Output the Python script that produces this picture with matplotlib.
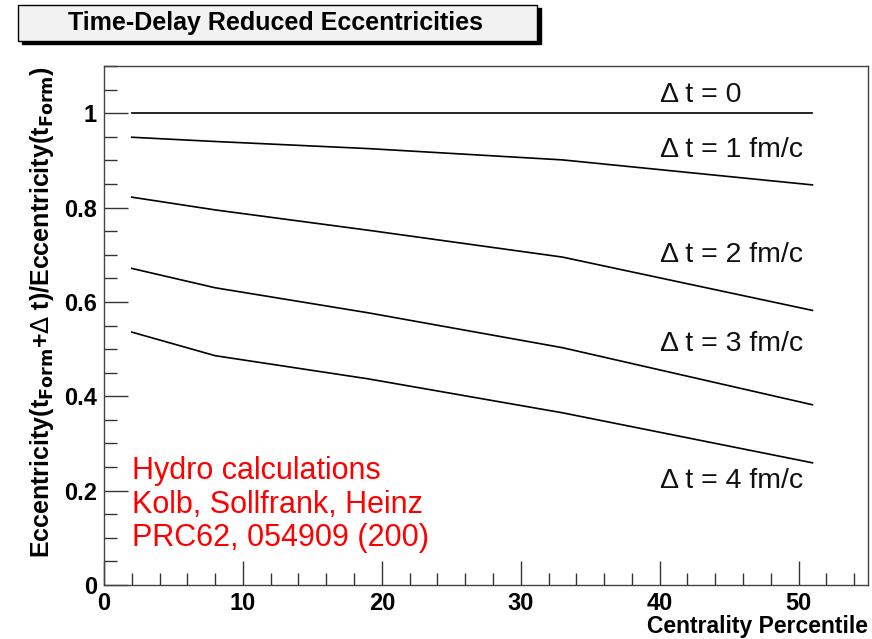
import matplotlib
matplotlib.use("Agg")
import matplotlib.pyplot as plt
from matplotlib.patches import Rectangle
from matplotlib.ticker import MultipleLocator

plt.rcParams['font.family'] = ['Liberation Sans', 'DejaVu Sans']

# centrality percentile of the calculated points
centrality = [2, 8, 19, 33, 51]

# eccentricity ratio for each time delay
dt0 = [1.0, 1.0, 1.0, 1.0, 1.0]
dt1 = [0.949, 0.940, 0.925, 0.901, 0.848]
dt2 = [0.822, 0.795, 0.752, 0.695, 0.582]
dt3 = [0.671, 0.630, 0.577, 0.503, 0.382]
dt4 = [0.536, 0.486, 0.437, 0.365, 0.259]
series = [dt0, dt1, dt2, dt3, dt4]

labels = ["\u0394 t = 0", "\u0394 t = 1 fm/c", "\u0394 t = 2 fm/c",
          "\u0394 t = 3 fm/c", "\u0394 t = 4 fm/c"]
label_y = [1.038, 0.921, 0.700, 0.510, 0.220]

W, H = 872, 639
fig = plt.figure(figsize=(W / 100, H / 100), dpi=100)
ax = fig.add_axes([104 / W, 1 - 585 / H, (868 - 104) / W, (585 - 66) / H])

for ys in series:
    ax.plot(centrality, ys, color='black', lw=1.2)

for lab, yl in zip(labels, label_y):
    ax.text(40, yl, lab, fontsize=20.5, va='center', ha='left', color='#111111')

ax.text(2.0, 0.17, "Hydro calculations\nKolb, Sollfrank, Heinz\nPRC62, 054909 (200)",
        color='red', fontsize=22, va='center', ha='left', linespacing=1.15)

ax.set_xlim(0, 55)
ax.set_ylim(0, 1.1)
ax.xaxis.set_major_locator(MultipleLocator(10))
ax.xaxis.set_minor_locator(MultipleLocator(2))
ax.yaxis.set_major_locator(MultipleLocator(0.2))
ax.yaxis.set_minor_locator(MultipleLocator(0.05))
ax.set_yticks([0, 0.2, 0.4, 0.6, 0.8, 1.0])
ax.set_yticklabels(["0", "0.2", "0.4", "0.6", "0.8", "1"])
ax.tick_params(which='both', direction='in', top=False, right=False, color='#333333', width=1)
ax.tick_params(which='major', length=17, labelsize=17, pad=5)
ax.tick_params(which='minor', length=9)
for lab in ax.get_xticklabels() + ax.get_yticklabels():
    lab.set_fontweight('bold')
for sp in ax.spines.values():
    sp.set_color('#444444')
    sp.set_linewidth(1)

ax.set_xlabel("Centrality Percentile", fontsize=16.5, fontweight='bold', loc='right', labelpad=0)
ax.set_ylabel(r"Eccentricity(t$_{\mathbf{Form}}$+$\Delta$ t)/Eccentricity(t$_{\mathbf{Form}}$)",
              fontsize=18, fontweight='bold', loc='top', labelpad=6)

# title box with shadow, drawn in figure pixels
shadow = Rectangle((22 / W, 1 - 44 / H), (537 - 18) / W, (41 - 5) / H,
                   transform=fig.transFigure, facecolor='black', edgecolor='black')
box = Rectangle((18 / W, 1 - 41 / H), (537 - 18) / W, (41 - 5) / H,
                transform=fig.transFigure, facecolor='#f2f2f2', edgecolor='black', lw=1)
fig.patches.extend([shadow, box])
fig.text(276 / W, 1 - 23 / H, "Time-Delay Reduced Eccentricities", fontsize=18,
         fontweight='bold', ha='center', va='center')

fig.savefig("out.png", dpi=100)
